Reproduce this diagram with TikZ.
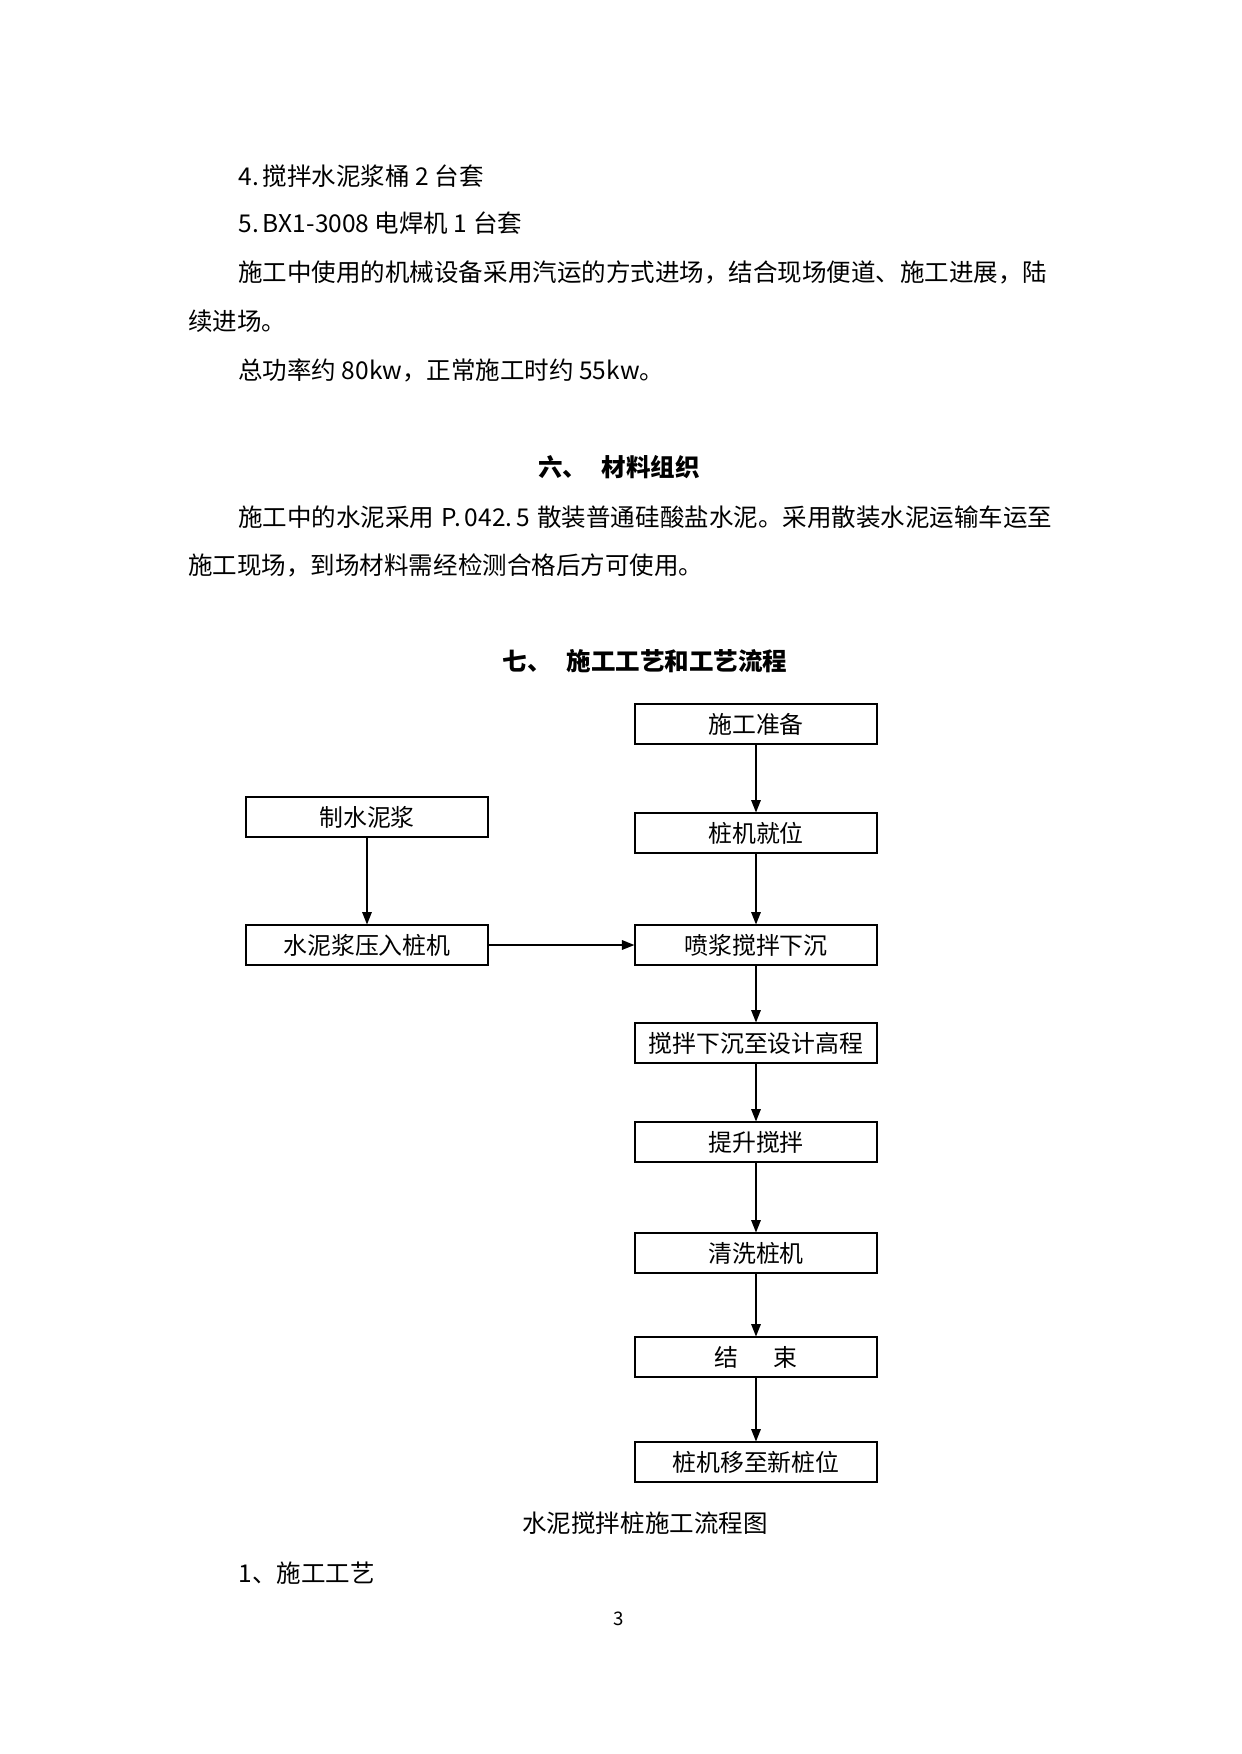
\documentclass[tikz,border=0pt]{standalone}
\usepackage{fontspec}
\setmainfont{Noto Sans CJK SC}
\usetikzlibrary{arrows.meta}

\begin{document}
\begin{tikzpicture}[x=0.16922mm, y=-0.16922mm]
\tikzstyle{box} = [rectangle, draw, line width=0.7pt, minimum width=40.9mm, minimum height=6.7mm, inner sep=0pt, font=\fontsize{11.5}{13}\selectfont]
\tikzstyle{arrow} = [line width=0.7pt, -{Triangle[length=6pt,width=4.6pt]}]
\tikzstyle{para} = [anchor=west, inner sep=0pt, font=\fontsize{11.8}{14}\selectfont]
\tikzstyle{heading} = [inner sep=0pt, font=\bfseries\fontsize{11.8}{14}\selectfont]

\useasboundingbox (0,0) rectangle (1241,1754);

% text above the chart
\node (item4) [para] at (238,176) {4.\,搅拌水泥浆桶 2 台套};
\node (item5) [para] at (238,223) {5.\,BX1-3008 电焊机 1 台套};
\node (equipa) [para] at (238,272) {\makebox[137.7mm][s]{施工中使用的机械设备采用汽运的方式进场，结合现场便道、施工进展，陆}};
\node (equipb) [para] at (188,321) {续进场。};
\node (power) [para] at (238,370) {总功率约 80kw，正常施工时约 55kw。};
\node (sec6) [heading] at (619,467) {六、\hspace{0.6em}材料组织};
\node (cementa) [para] at (238,517) {\makebox[137.7mm][s]{施工中的水泥采用 P.\,042.\,5 散装普通硅酸盐水泥。采用散装水泥运输车运至}};
\node (cementb) [para] at (188,565) {施工现场，到场材料需经检测合格后方可使用。};
\node (sec7) [heading] at (645,661) {七、\hspace{0.6em}施工工艺和工艺流程};

% flow chart
\node (zhunbei) [box] at (756,724) {施工准备};
\node (jiuwei) [box] at (756,833) {桩机就位};
\node (penjiang) [box] at (756,945) {喷浆搅拌下沉};
\node (xiachen) [box] at (756,1043) {搅拌下沉至设计高程};
\node (tisheng) [box] at (756,1142) {提升搅拌};
\node (qingxi) [box] at (756,1253) {清洗桩机};
\node (jieshu) [box] at (756,1357) {结\hspace{1.5em}束};
\node (yiwei) [box] at (756,1462) {桩机移至新桩位};
\node (zhijiang) [box] at (367,817) {制水泥浆};
\node (yaru) [box] at (367,945) {水泥浆压入桩机};

\draw [arrow] (zhunbei) -- (jiuwei);
\draw [arrow] (jiuwei) -- (penjiang);
\draw [arrow] (penjiang) -- (xiachen);
\draw [arrow] (xiachen) -- (tisheng);
\draw [arrow] (tisheng) -- (qingxi);
\draw [arrow] (qingxi) -- (jieshu);
\draw [arrow] (jieshu) -- (yiwei);
\draw [arrow] (zhijiang) -- (yaru);
\draw [arrow] (yaru) -- (penjiang);

% caption and below
\node (caption) [inner sep=0pt, font=\fontsize{11.8}{14}\selectfont] at (645,1523) {水泥搅拌桩施工流程图};
\node (step1) [para] at (238,1573) {1、施工工艺};
\node (pageno) [inner sep=0pt, font=\fontsize{9}{11}\selectfont] at (619,1619) {3};

\end{tikzpicture}
\end{document}
